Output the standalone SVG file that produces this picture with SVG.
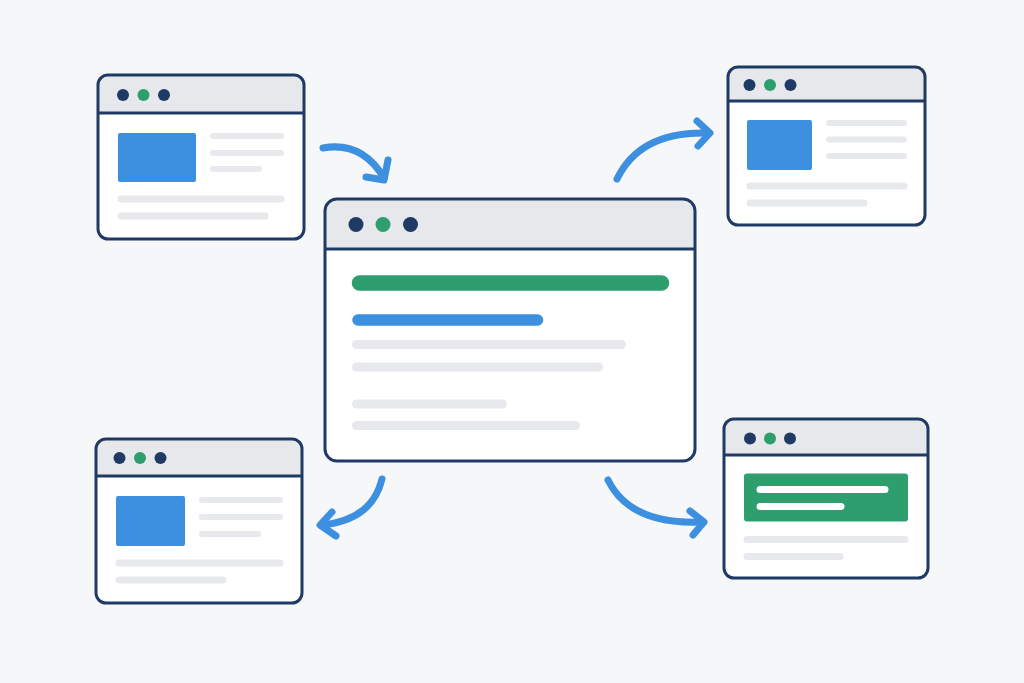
<svg xmlns="http://www.w3.org/2000/svg" width="1024" height="683" viewBox="0 0 1024 683">
<style>
.bg{fill:#f6f7f9}
.body{fill:#ffffff}
.bar{fill:#e6e8ec}
.frame{fill:none;stroke:#1f3a64;stroke-width:3}
.sep{stroke:#1f3a64;stroke-width:3}
.dn{fill:#1f3a64}
.dg{fill:#2e9e6e}
.img{fill:#3d8fe0}
.ln{stroke:#e8e9ec;stroke-linecap:round}
.wl{stroke:#ffffff;stroke-linecap:round;stroke-width:7}
.arr{fill:none;stroke:#3d8fe0;stroke-width:7;stroke-linecap:round;stroke-linejoin:round}
</style>
<rect class="bg" x="0" y="0" width="1024" height="683"/>

<g id="win-top-left">
<rect class="body" x="98" y="75" width="206" height="164" rx="10"/>
<path class="bar" d="M98,113 V85 A10,10 0 0 1 108,75 H294 A10,10 0 0 1 304,85 V113 Z"/>
<line class="sep" x1="98" y1="113" x2="304" y2="113"/>
<circle class="dn" cx="123" cy="95" r="6"/>
<circle class="dg" cx="143.5" cy="95" r="6"/>
<circle class="dn" cx="164" cy="95" r="6"/>
<rect class="img" x="118" y="133" width="78" height="49" rx="2"/>
<line class="ln" x1="213" y1="136" x2="281" y2="136" stroke-width="6"/>
<line class="ln" x1="213" y1="153" x2="281" y2="153" stroke-width="6"/>
<line class="ln" x1="213" y1="169" x2="259" y2="169" stroke-width="6"/>
<line class="ln" x1="121" y1="199" x2="281" y2="199" stroke-width="7"/>
<line class="ln" x1="121" y1="216" x2="265" y2="216" stroke-width="7"/>
<rect class="frame" x="98" y="75" width="206" height="164" rx="10"/>
</g>

<g id="win-center">
<rect class="body" x="325" y="199" width="370" height="262" rx="12"/>
<path class="bar" d="M325,249 V211 A12,12 0 0 1 337,199 H683 A12,12 0 0 1 695,211 V249 Z"/>
<line class="sep" x1="325" y1="249" x2="695" y2="249"/>
<circle class="dn" cx="356" cy="224.5" r="7.5"/>
<circle class="dg" cx="383" cy="224.5" r="7.5"/>
<circle class="dn" cx="410.5" cy="224.5" r="7.5"/>
<line x1="359.5" y1="283" x2="661.5" y2="283" stroke="#2e9e6e" stroke-width="15.5" stroke-linecap="round"/>
<line x1="358" y1="320" x2="537.5" y2="320" stroke="#3d8fe0" stroke-width="11.5" stroke-linecap="round"/>
<line class="ln" x1="356.5" y1="344.5" x2="621.5" y2="344.5" stroke-width="9"/>
<line class="ln" x1="356.5" y1="367" x2="598.5" y2="367" stroke-width="9"/>
<line class="ln" x1="356.5" y1="404" x2="502.5" y2="404" stroke-width="9"/>
<line class="ln" x1="356.5" y1="425.5" x2="575.5" y2="425.5" stroke-width="9"/>
<rect class="frame" x="325" y="199" width="370" height="262" rx="12"/>
</g>

<g id="win-top-right">
<rect class="body" x="728" y="67" width="197" height="158" rx="10"/>
<path class="bar" d="M728,101 V77 A10,10 0 0 1 738,67 H915 A10,10 0 0 1 925,77 V101 Z"/>
<line class="sep" x1="728" y1="101" x2="925" y2="101"/>
<circle class="dn" cx="749.5" cy="85" r="6"/>
<circle class="dg" cx="770" cy="85" r="6"/>
<circle class="dn" cx="790.5" cy="85" r="6"/>
<rect class="img" x="747" y="120" width="65" height="50" rx="2"/>
<line class="ln" x1="829" y1="123" x2="904" y2="123" stroke-width="6"/>
<line class="ln" x1="829" y1="139.5" x2="904" y2="139.5" stroke-width="6"/>
<line class="ln" x1="829" y1="156" x2="904" y2="156" stroke-width="6"/>
<line class="ln" x1="750" y1="186" x2="904" y2="186" stroke-width="7"/>
<line class="ln" x1="750" y1="203" x2="864" y2="203" stroke-width="7"/>
<rect class="frame" x="728" y="67" width="197" height="158" rx="10"/>
</g>

<g id="win-bottom-left">
<rect class="body" x="96" y="439" width="206" height="164" rx="10"/>
<path class="bar" d="M96,476 V449 A10,10 0 0 1 106,439 H292 A10,10 0 0 1 302,449 V476 Z"/>
<line class="sep" x1="96" y1="476" x2="302" y2="476"/>
<circle class="dn" cx="119.5" cy="458" r="6"/>
<circle class="dg" cx="140" cy="458" r="6"/>
<circle class="dn" cx="160.5" cy="458" r="6"/>
<rect class="img" x="116" y="496" width="69" height="50" rx="2"/>
<line class="ln" x1="202" y1="500" x2="280" y2="500" stroke-width="6"/>
<line class="ln" x1="202" y1="517" x2="280" y2="517" stroke-width="6"/>
<line class="ln" x1="202" y1="534" x2="258" y2="534" stroke-width="6"/>
<line class="ln" x1="119" y1="563" x2="280" y2="563" stroke-width="7"/>
<line class="ln" x1="119" y1="580" x2="223" y2="580" stroke-width="7"/>
<rect class="frame" x="96" y="439" width="206" height="164" rx="10"/>
</g>

<g id="win-bottom-right">
<rect class="body" x="724" y="419" width="204" height="159" rx="10"/>
<path class="bar" d="M724,455 V429 A10,10 0 0 1 734,419 H918 A10,10 0 0 1 928,429 V455 Z"/>
<line class="sep" x1="724" y1="455" x2="928" y2="455"/>
<circle class="dn" cx="750" cy="438.5" r="6"/>
<circle class="dg" cx="770" cy="438.5" r="6"/>
<circle class="dn" cx="790" cy="438.5" r="6"/>
<rect x="744" y="473.5" width="164" height="48" rx="3" fill="#2e9e6e"/>
<line class="wl" x1="760" y1="489.5" x2="885" y2="489.5"/>
<line class="wl" x1="760" y1="506.5" x2="841" y2="506.5"/>
<line class="ln" x1="747" y1="539.5" x2="905" y2="539.5" stroke-width="7"/>
<line class="ln" x1="747" y1="556.5" x2="840" y2="556.5" stroke-width="7"/>
<rect class="frame" x="724" y="419" width="204" height="159" rx="10"/>
</g>

<g id="connectors">
<path class="arr" d="M323,148 Q362,141 384,178"/>
<path class="arr" d="M366,177 L384,180 L388,160"/>
<path class="arr" d="M617,179 Q640,131 708,133"/>
<path class="arr" d="M697,121 L710,133 L698,146"/>
<path class="arr" d="M382,479 Q372,520 322,525"/>
<path class="arr" d="M332,512 L320,525 L336,536"/>
<path class="arr" d="M608,480 Q630,525 702,522"/>
<path class="arr" d="M690,511 L704,522 L693,535"/>
</g>
</svg>
